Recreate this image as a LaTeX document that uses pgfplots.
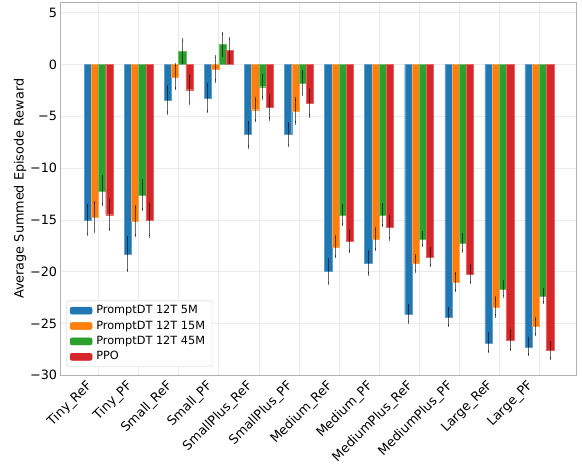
\documentclass[border=0pt]{standalone}
\usepackage{fontspec}
\setmainfont{DejaVu Sans}
\usepackage{pgfplots}
\pgfplotsset{compat=1.18}
\usepackage{pgfplotstable}
\definecolor{tabblue}{HTML}{1F77B4}
\definecolor{taborange}{HTML}{FF7F0E}
\definecolor{tabgreen}{HTML}{2CA02C}
\definecolor{tabred}{HTML}{D62728}

% x = category index + bar offset, y = mean, e = error
\pgfplotstableread{
x y e
-0.27 -15.00 1.40
0.73 -18.30 1.60
1.73 -3.43 1.25
2.73 -3.24 1.30
3.73 -6.77 1.20
4.73 -6.77 1.03
5.73 -19.97 1.14
6.73 -19.16 1.06
7.73 -24.08 0.82
8.73 -24.37 0.83
9.73 -26.86 0.87
10.73 -27.25 0.77
}\tblA
\pgfplotstableread{
x y e
-0.09 -14.70 1.40
0.91 -15.13 1.40
1.91 -1.19 1.15
2.91 -0.42 1.17
3.91 -4.37 1.07
4.91 -4.49 1.15
5.91 -17.60 0.96
6.91 -16.86 1.00
7.91 -19.20 0.75
8.91 -21.00 0.83
9.91 -23.40 0.87
10.91 -25.30 0.78
}\tblB
\pgfplotstableread{
x y e
0.09 -12.20 1.35
1.09 -12.63 1.40
2.09 1.28 1.12
3.09 1.95 1.07
4.09 -2.15 1.09
5.09 -1.77 1.10
6.09 -14.56 0.91
7.09 -14.52 1.03
8.09 -16.86 0.63
9.09 -17.21 0.80
10.09 -21.67 0.72
11.09 -22.35 0.63
}\tblC
\pgfplotstableread{
x y e
0.27 -14.50 1.43
1.27 -15.07 1.50
2.27 -2.44 1.30
3.27 1.35 1.15
4.27 -4.13 1.13
5.27 -3.72 1.25
6.27 -17.06 1.00
7.27 -15.74 1.10
8.27 -18.60 0.82
9.27 -20.23 0.83
10.27 -26.60 0.91
11.27 -27.60 0.79
}\tblD

\pgfplotsset{
  myerr/.style={
    error bars/y dir=both,
    error bars/y explicit,
    error bars/error bar style={black, opacity=0.55, line width=0.9bp},
    error bars/error mark options={black, opacity=0.55, line width=0.9bp, mark size=1.6bp},
  },
}

\begin{document}
\begin{tikzpicture}
\useasboundingbox (0,0) rectangle (582bp,468bp);
\begin{axis}[
  at={(60.3bp,92.7bp)}, anchor=south west,
  scale only axis, width=516.4bp, height=373bp,
  xmin=-0.953, xmax=11.93, ymin=-30, ymax=6,
  ybar, bar width=0.18,
  xtick={0,...,11},
  xticklabels={Tiny\_ReF,Tiny\_PF,Small\_ReF,Small\_PF,SmallPlus\_ReF,SmallPlus\_PF,Medium\_ReF,Medium\_PF,MediumPlus\_ReF,MediumPlus\_PF,Large\_ReF,Large\_PF},
  ytick={-30,-25,-20,-15,-10,-5,0,5},
  yticklabels={−30,−25,−20,−15,−10,−5,0,5},
  major tick length=0pt,
  tick label style={font=\fontsize{12.8bp}{15bp}\selectfont, text=black},
  xticklabel style={xshift=-13bp, yshift=-4bp, rotate=45, anchor=north east, inner sep=0pt},
  yticklabel style={anchor=east, inner sep=0pt, xshift=-3bp},
  grid=major,
  major grid style={color=black!8, line width=0.6bp},
  axis line style={color=black!30, line width=0.8bp},
  ylabel={Average Summed Episode Reward},
  every axis y label/.style={at={(rel axis cs:0,0.5)}, xshift=-40.3bp, rotate=90, anchor=center, font=\fontsize{12.8bp}{15bp}\selectfont, text=black},
  legend cell align=left,
  legend style={at={(rel axis cs:0.0124,0.023)}, anchor=south west,
    draw=black!20, fill=white, rounded corners=2bp,
    font=\fontsize{11.3bp}{13bp}\selectfont,
    nodes={inner xsep=4bp, inner ysep=2.2bp, text height=8.6bp, text depth=2.4bp}},
]
\addplot[myerr, bar shift=0pt, fill=tabblue, draw=tabblue!70!white, line width=0.4bp,
  legend image code/.code={\fill[tabblue] (0bp,-3.6bp) rectangle (22bp,3.6bp);}]
  table[x=x, y=y, y error=e] {\tblA};
\addlegendentry{PromptDT 12T 5M}
\addplot[myerr, bar shift=0pt, fill=taborange, draw=taborange!70!white, line width=0.4bp,
  legend image code/.code={\fill[taborange] (0bp,-3.6bp) rectangle (22bp,3.6bp);}]
  table[x=x, y=y, y error=e] {\tblB};
\addlegendentry{PromptDT 12T 15M}
\addplot[myerr, bar shift=0pt, fill=tabgreen, draw=tabgreen!70!white, line width=0.4bp,
  legend image code/.code={\fill[tabgreen] (0bp,-3.6bp) rectangle (22bp,3.6bp);}]
  table[x=x, y=y, y error=e] {\tblC};
\addlegendentry{PromptDT 12T 45M}
\addplot[myerr, bar shift=0pt, fill=tabred, draw=tabred!70!white, line width=0.4bp,
  legend image code/.code={\fill[tabred] (0bp,-3.6bp) rectangle (22bp,3.6bp);}]
  table[x=x, y=y, y error=e] {\tblD};
\addlegendentry{PPO}
\end{axis}
\end{tikzpicture}
\end{document}
